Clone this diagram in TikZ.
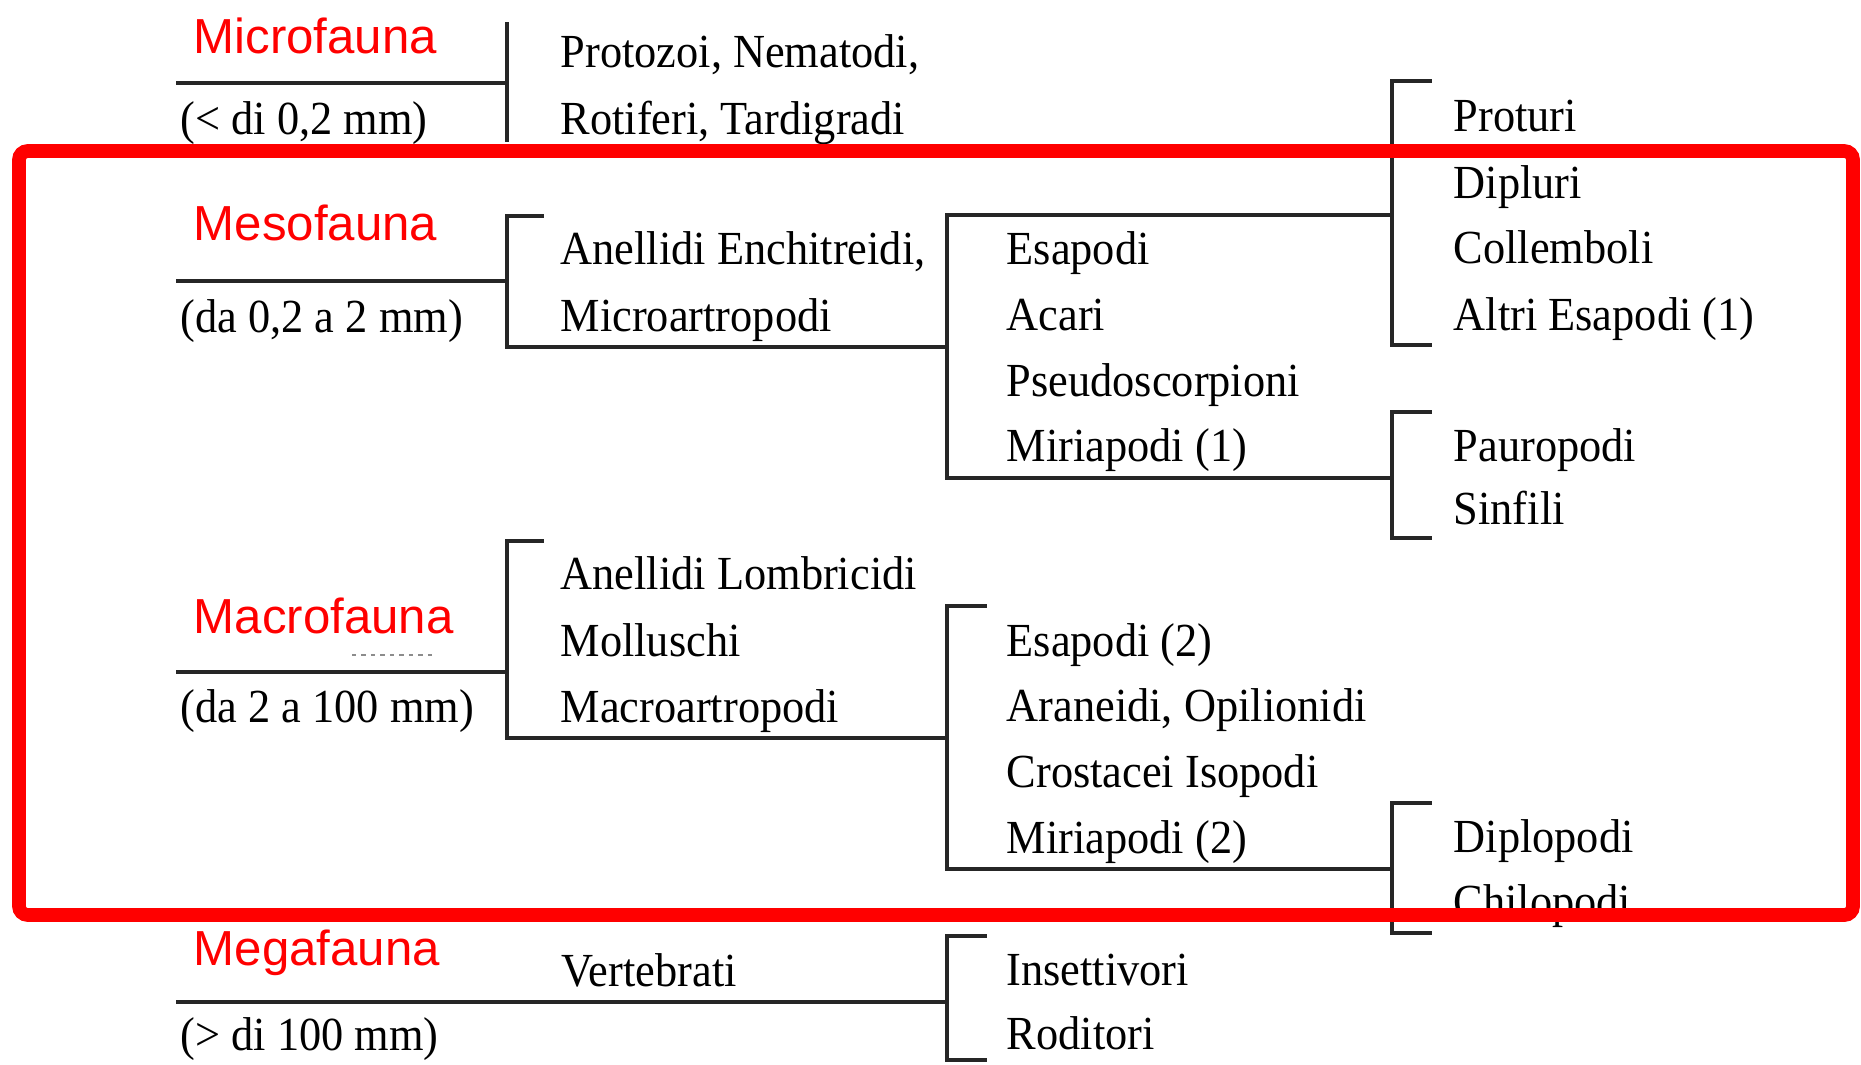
\documentclass[tikz,border=0pt]{standalone}
\usepackage{fontspec}
\setmainfont[FakeStretch=0.935]{Liberation Serif}
\newfontfamily\redsans{Liberation Sans}
\begin{document}
\begin{tikzpicture}[x=0.1mm,y=-0.1mm,
  lbl/.style={anchor=base west, inner sep=0pt, font=\fontsize{13.5}{16}\selectfont},
  cls/.style={anchor=base west, inner sep=0pt, text=red, font=\redsans\fontsize{14}{16}\selectfont},
  br/.style={line width=1pt, draw=black!85, line cap=rect},
  frame/.style={draw=red, line width=3.9pt, rounded corners=2.5pt}]
\useasboundingbox[fill=white] (0,0) rectangle (1861,1064);

% ---------- class labels ----------
\node[cls] (micro) at (193,54) {Microfauna};
\node[lbl] (microR) at (180,134) {(< di 0,2 mm)};
\node[cls] (meso) at (193,240) {Mesofauna};
\node[lbl] (mesoR) at (180,332) {(da 0,2 a 2 mm)};
\node[cls] (macro) at (193,633) {Macrofauna};
\node[lbl] (macroR) at (180,722) {(da 2 a 100 mm)};
\node[cls] (mega) at (193,965) {Megafauna};
\node[lbl] (megaR) at (180,1050) {(> di 100 mm)};

% ---------- column 2 ----------
\node[lbl] (proto) at (560,67) {Protozoi, Nematodi,};
\node[lbl] (roti) at (560,134) {Rotiferi, Tardigradi};
\node[lbl] (enchi) at (560,264) {Anellidi Enchitreidi,};
\node[lbl] (microart) at (560,331) {Microartropodi};
\node[lbl] (lombri) at (560,589) {Anellidi Lombricidi};
\node[lbl] (mollu) at (560,656) {Molluschi};
\node[lbl] (macroart) at (560,722) {Macroartropodi};
\node[lbl] (verte) at (561,986) {Vertebrati};

% ---------- column 3 ----------
\node[lbl] (esa1) at (1006,264) {Esapodi};
\node[lbl] (acari) at (1006,330) {Acari};
\node[lbl] (pseudo) at (1006,396) {Pseudoscorpioni};
\node[lbl] (miria1) at (1006,461) {Miriapodi (1)};
\node[lbl] (esa2) at (1006,656) {Esapodi (2)};
\node[lbl] (aran) at (1006,721) {Araneidi, Opilionidi};
\node[lbl] (crost) at (1006,787) {Crostacei Isopodi};
\node[lbl] (miria2) at (1006,853) {Miriapodi (2)};
\node[lbl] (insett) at (1006,985) {Insettivori};
\node[lbl] (rodit) at (1006,1049) {Roditori};

% ---------- column 4 ----------
\node[lbl] (protu) at (1453,131) {Proturi};
\node[lbl] (diplu) at (1453,198) {Dipluri};
\node[lbl] (colle) at (1453,263) {Collemboli};
\node[lbl] (altri) at (1453,330) {Altri Esapodi (1)};
\node[lbl] (pauro) at (1453,461) {Pauropodi};
\node[lbl] (sinfi) at (1453,524) {Sinfili};
\node[lbl] (diplo) at (1453,852) {Diplopodi};
\node[lbl] (chilo) at (1453,917) {Chilopodi};

% ---------- bracket coordinates ----------
% microfauna
\coordinate (miL) at (178,83);  \coordinate (miM) at (507,83);
\coordinate (miT) at (507,24);  \coordinate (miB) at (507,140);
% mesofauna
\coordinate (meL) at (178,281); \coordinate (meM) at (507,281);
\coordinate (meTt) at (542,216); \coordinate (meT) at (507,216);
\coordinate (meB) at (507,347); \coordinate (meBr) at (947,347);
\coordinate (b2Tr) at (1392,215); \coordinate (b2T) at (947,215);
\coordinate (b2B) at (947,478); \coordinate (b2Br) at (1392,478);
\coordinate (b3Tt) at (1430,81); \coordinate (b3T) at (1392,81);
\coordinate (b3B) at (1392,345); \coordinate (b3Bt) at (1430,345);
\coordinate (b4Tt) at (1430,412); \coordinate (b4T) at (1392,412);
\coordinate (b4B) at (1392,538); \coordinate (b4Bt) at (1430,538);
% macrofauna
\coordinate (maL) at (178,672); \coordinate (maM) at (507,672);
\coordinate (maTt) at (542,541); \coordinate (maT) at (507,541);
\coordinate (maB) at (507,738); \coordinate (maBr) at (947,738);
\coordinate (c2Tt) at (985,606); \coordinate (c2T) at (947,606);
\coordinate (c2B) at (947,869); \coordinate (c2Br) at (1392,869);
\coordinate (c3Tt) at (1430,803); \coordinate (c3T) at (1392,803);
\coordinate (c3B) at (1392,933); \coordinate (c3Bt) at (1430,933);
% megafauna
\coordinate (mgL) at (178,1002); \coordinate (mgM) at (947,1002);
\coordinate (d2Tt) at (985,936); \coordinate (d2T) at (947,936);
\coordinate (d2B) at (947,1060); \coordinate (d2Bt) at (985,1060);

% ---------- brackets ----------
\draw[br] (miL) -- (miM);
\draw[br] (miT) -- (miB);

\draw[br] (meL) -- (meM);
\draw[br] (meTt) -- (meT) -- (meB) -- (meBr);
\draw[br] (b2Tr) -- (b2T) -- (b2B) -- (b2Br);
\draw[br] (b3Tt) -- (b3T) -- (b3B) -- (b3Bt);
\draw[br] (b4Tt) -- (b4T) -- (b4B) -- (b4Bt);

\draw[br] (maL) -- (maM);
\draw[br] (maTt) -- (maT) -- (maB) -- (maBr);
\draw[br] (c2Tt) -- (c2T) -- (c2B) -- (c2Br);
\draw[br] (c3Tt) -- (c3T) -- (c3B) -- (c3Bt);

\draw[br] (mgL) -- (mgM);
\draw[br] (d2Tt) -- (d2T) -- (d2B) -- (d2Bt);

% faint dotted mark under Macrofauna
\coordinate (dotA) at (352,655); \coordinate (dotB) at (437,655);
\draw[black!45, line width=0.4pt, dash pattern=on 1.2pt off 1.5pt] (dotA) -- (dotB);

% ---------- red highlight frame ----------
\coordinate (frA) at (19,151); \coordinate (frB) at (1853,915);
\draw[frame] (frA) rectangle (frB);
\end{tikzpicture}
\end{document}
